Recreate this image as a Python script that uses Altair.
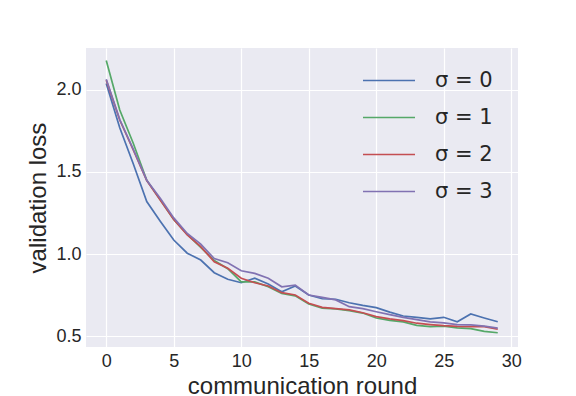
import altair as alt
import pandas as pd

rounds = list(range(30))
sigma0 = [2.04, 1.77, 1.55, 1.32, 1.20, 1.085, 1.005, 0.963, 0.886, 0.846, 0.825, 0.852, 0.817, 0.77, 0.805,
          0.75, 0.727, 0.724, 0.703, 0.687, 0.673, 0.646, 0.622, 0.614, 0.604, 0.614, 0.587, 0.634, 0.61, 0.587]
sigma1 = [2.18, 1.878, 1.675, 1.45, 1.33, 1.21, 1.12, 1.04, 0.96, 0.91, 0.83, 0.83, 0.80, 0.76, 0.745,
          0.695, 0.67, 0.665, 0.655, 0.64, 0.61, 0.595, 0.586, 0.565, 0.557, 0.56, 0.55, 0.545, 0.528, 0.52]
sigma2 = [2.06, 1.817, 1.634, 1.447, 1.329, 1.21, 1.116, 1.045, 0.953, 0.913, 0.852, 0.825, 0.805, 0.764, 0.75,
          0.70, 0.675, 0.667, 0.659, 0.642, 0.618, 0.604, 0.594, 0.578, 0.57, 0.563, 0.559, 0.557, 0.557, 0.541]
sigma3 = [2.065, 1.82, 1.64, 1.45, 1.34, 1.22, 1.125, 1.06, 0.972, 0.947, 0.898, 0.882, 0.852, 0.80, 0.81,
          0.75, 0.736, 0.72, 0.679, 0.667, 0.648, 0.63, 0.614, 0.60, 0.586, 0.58, 0.57, 0.568, 0.56, 0.548]

labels = ["σ = 0", "σ = 1", "σ = 2", "σ = 3"]
colors = ["#4C72B0", "#55A868", "#C44E52", "#8172B2"]

rows = []
for lab, series in zip(labels, [sigma0, sigma1, sigma2, sigma3]):
    for r, v in zip(rounds, series):
        rows.append({"round": r, "loss": v, "series": lab})
df = pd.DataFrame(rows)

chart = alt.Chart(df).mark_line(strokeWidth=1.7).encode(
    x=alt.X("round:Q", title="communication round",
            scale=alt.Scale(domain=[-1.5, 30.5], nice=False, zero=False),
            axis=alt.Axis(values=[0, 5, 10, 15, 20, 25, 30], format="d")),
    y=alt.Y("loss:Q", title="validation loss",
            scale=alt.Scale(domain=[0.433, 2.256], nice=False, zero=False),
            axis=alt.Axis(values=[0.5, 1.0, 1.5, 2.0], format=".1f")),
    color=alt.Color("series:N", scale=alt.Scale(domain=labels, range=colors),
                    legend=alt.Legend(title=None, orient="none", legendX=276, legendY=14,
                                      symbolType="stroke", symbolSize=2704, symbolStrokeWidth=1.7,
                                      labelFontSize=21, labelFont="DejaVu Sans", labelColor="#262626",
                                      clipHeight=37, rowPadding=0, labelOffset=19)),
).properties(
    width=432, height=299,
    autosize=alt.AutoSizeParams(type="none"),
    padding={"left": 78, "top": 40, "right": 50, "bottom": 52},
).configure_view(
    fill="#EAEAF2", stroke=None
).configure_axis(
    grid=True, gridColor="white", gridWidth=1.2, domain=False, ticks=False,
    labelFont="Liberation Sans", labelFontSize=18, labelColor="#262626", labelPadding=5,
    titleFont="Liberation Sans", titleFontSize=24, titleFontWeight="normal", titleColor="#262626",
).configure_axisX(titlePadding=4).configure_axisY(titlePadding=5)

chart.save("out.html", embed_options={"renderer": "svg", "actions": False})
